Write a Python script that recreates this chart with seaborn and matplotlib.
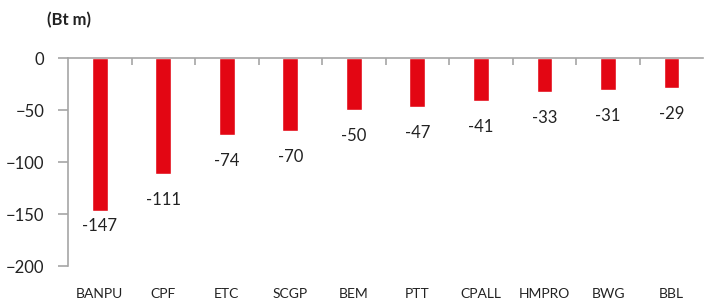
import matplotlib
matplotlib.use("Agg")
import matplotlib.pyplot as plt
import seaborn as sns
import pandas as pd
from matplotlib.ticker import FixedLocator

# data
stocks = ["BANPU", "CPF", "ETC", "SCGP", "BEM", "PTT", "CPALL", "HMPRO", "BWG", "BBL"]
flows = [-147, -111, -74, -70, -50, -47, -41, -33, -31, -29]

df = pd.DataFrame({"stock": stocks, "flow": flows})

sns.set_style("white")
plt.rcParams["font.family"] = ["Lato", "DejaVu Sans"]

fig = plt.figure(figsize=(7.04, 3.01), dpi=100)
ax = fig.add_axes([0.0966, 0.116, 0.9024, 0.691])

sns.barplot(data=df, x="stock", y="flow", color="#E30613", width=0.25,
            saturation=1, ax=ax)

ax.set_ylim(-200, 0)
ax.set_xlim(-0.5, len(stocks) - 0.5)
ax.set_yticks([0, -50, -100, -150, -200])
ax.set_xlabel("")
ax.set_ylabel("")

grey = "#a6a6a6"
for side in ["right", "bottom"]:
    ax.spines[side].set_visible(False)
for side in ["left", "top"]:
    ax.spines[side].set_color(grey)
    ax.spines[side].set_linewidth(1.2)

# category boundary ticks on the zero line
ax.xaxis.set_minor_locator(FixedLocator([i + 0.5 for i in range(len(stocks) - 1)]))
ax.tick_params(axis="x", which="minor", top=True, bottom=False, direction="in",
               length=5, color=grey, width=1.2)
ax.tick_params(axis="x", which="major", top=False, bottom=False, length=0,
               pad=16, labelsize=10, labelcolor="#222222")
ax.tick_params(axis="y", which="major", left=True, direction="out", length=7,
               color=grey, width=1.2, pad=10, labelsize=12, labelcolor="#222222")

for i, v in enumerate(flows):
    off = -15 if i == 0 else -26
    ax.annotate(f"{v}", (i, v), xytext=(0, off), textcoords="offset pixels",
                ha="center", va="center", fontsize=12, color="#222222")

fig.text(0.098, 0.934, "(Bt m)", ha="center", va="center", fontsize=12,
         fontweight="bold", color="#222222")

fig.savefig("out.png", dpi=100)
